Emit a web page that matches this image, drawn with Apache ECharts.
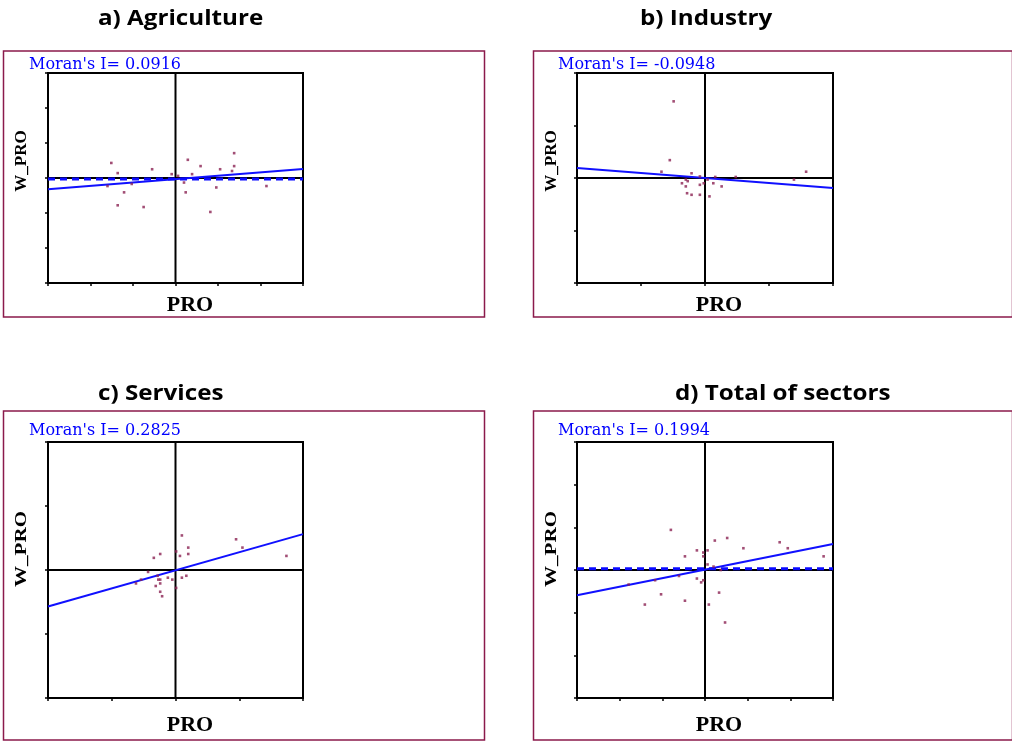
<!DOCTYPE html>
<html>
<head>
<meta charset="utf-8">
<script src="https://cdn.jsdelivr.net/npm/echarts@6/dist/echarts.min.js"></script>
<style>html,body{margin:0;padding:0;background:#fff;}#c{width:1012px;height:742px;}</style>
</head>
<body>
<div id="c"></div>
<script>
// ---- data ----
const panelTitles = ['a) Agriculture', 'b) Industry', 'c) Services', 'd) Total of sectors'];
const moranLabels = ["Moran's I= 0.0916", "Moran's I= -0.0948", "Moran's I= 0.2825", "Moran's I= 0.1994"];
const axisExtent = [3, 2, 2, 3];
const xAxisName = 'PRO';
const yAxisName = 'W_PRO';

const agriX = [-1.51, -1.36, -1.60, -1.21, -1.03, -1.36, -0.75, -0.55, -0.09, 0.06, 0.20, 0.24, 0.29, 0.39, 0.59, 0.82, 0.96, 1.05, 1.33, 1.38, 1.38, 2.14];
const agriY = [0.43, 0.14, -0.23, -0.41, -0.17, -0.78, -0.83, 0.25, 0.11, 0.06, -0.13, -0.41, 0.52, 0.11, 0.34, -0.97, -0.27, 0.25, 0.20, 0.34, 0.71, -0.23];
const agriFitX = [-3, 3];
const agriFitY = [-0.32, 0.26];
const agriRefY = [-0.03, -0.03];

const indX = [-0.49, -0.55, -0.68, -0.21, -0.08, -0.30, -0.27, -0.36, -0.30, -0.08, -0.02, -0.28, -0.21, -0.08, 0.07, 0.13, 0.16, 0.26, 0.48, 1.39, 1.58, 0.04];
const indY = [1.46, 0.34, 0.12, 0.09, 0.03, -0.03, -0.06, -0.10, -0.16, -0.13, -0.10, -0.29, -0.32, -0.32, -0.35, -0.10, 0.02, -0.16, 0.02, -0.03, 0.12, -0.03];
const indFitX = [-2, 2];
const indFitY = [0.19, -0.19];

const servX = [0.10, 0.95, 1.05, 0.20, -0.24, -0.34, 0.07, 0.20, 0.01, 1.74, -0.43, -0.62, -0.28, -0.27, -0.24, -0.24, -0.31, -0.24, -0.21, -0.12, -0.05, 0.01, 0.10, 0.17, -0.54];
const servY = [0.54, 0.48, 0.35, 0.35, 0.25, 0.19, 0.22, 0.25, 0.29, 0.22, -0.03, -0.21, -0.09, -0.15, -0.15, -0.21, -0.25, -0.34, -0.41, -0.12, -0.15, -0.28, -0.12, -0.09, -0.15];
const servFitX = [-2, 2];
const servFitY = [-0.57, 0.56];

const totX = [-0.80, 0.23, 0.52, 0.90, 1.75, 1.94, 2.78, -0.47, -0.19, -0.04, -0.04, 0.06, 0.06, 0.20, 0.37, -0.61, -1.17, -0.19, -0.09, -0.04, -1.03, -1.41, -0.47, 0.09, 0.33, 0.47, -1.79];
const totY = [0.94, 0.69, 0.75, 0.51, 0.65, 0.51, 0.32, 0.32, 0.46, 0.41, 0.32, 0.46, 0.13, 0.08, 0.00, -0.14, -0.24, -0.20, -0.29, -0.24, -0.57, -0.81, -0.72, -0.81, -0.53, -1.23, -0.34];
const totFitX = [-3, 3];
const totFitY = [-0.59, 0.61];
const totRefY = [0.03, 0.03];

// ---- layout ----
const grids = [
  {left: 48, top: 73, width: 255, height: 210},
  {left: 577, top: 73, width: 256, height: 210},
  {left: 48, top: 442, width: 255, height: 256},
  {left: 577, top: 442, width: 256, height: 256}
];
const frames = [
  {x: 3.5, y: 51, w: 481, h: 266},
  {x: 533.5, y: 51, w: 479, h: 266},
  {x: 3.5, y: 411, w: 481, h: 329},
  {x: 533.5, y: 411, w: 479, h: 329}
];
const titlePos = [[98, 19], [640, 19], [98, 394], [675, 394]];
const moranPos = [[29, 65], [558, 65], [29, 431], [558, 431]];
const wproPos = [[22, 161, 1], [552, 161, 1], [22, 549, 1.24], [552, 549, 1.24]];
const proPos = [[190, 305], [719, 305], [190, 725], [719, 725]];

const panels = [
  {x: agriX, y: agriY, fx: agriFitX, fy: agriFitY, ref: agriRefY},
  {x: indX, y: indY, fx: indFitX, fy: indFitY, ref: null},
  {x: servX, y: servY, fx: servFitX, fy: servFitY, ref: null},
  {x: totX, y: totY, fx: totFitX, fy: totFitY, ref: totRefY}
];

const xAxes = [], yAxes = [], series = [], graphic = [];
const axisCommon = (ext) => ({
  type: 'value', min: -ext, max: ext, interval: 1,
  axisLine: {show: true, onZero: false, lineStyle: {color: '#000', width: 2}},
  axisTick: {show: true, inside: false, length: 3, lineStyle: {color: '#000', width: 1.5}},
  axisLabel: {show: false},
  splitLine: {show: false}
});

panels.forEach((p, i) => {
  const ext = axisExtent[i];
  xAxes.push(Object.assign({gridIndex: i}, axisCommon(ext)));
  yAxes.push(Object.assign({gridIndex: i}, axisCommon(ext)));
  // zero cross lines
  series.push({
    type: 'line', xAxisIndex: i, yAxisIndex: i, z: 1, symbol: 'none', silent: true,
    data: [[0, -ext], [0, ext]], lineStyle: {color: '#000', width: 2}
  });
  series.push({
    type: 'line', xAxisIndex: i, yAxisIndex: i, z: 1, symbol: 'none', silent: true,
    data: [[-ext, 0], [ext, 0]], lineStyle: {color: '#000', width: 2}
  });
  series.push({
    type: 'line', xAxisIndex: i, yAxisIndex: i, z: 3, symbol: 'none', silent: true,
    data: p.fx.map((v, k) => [v, p.fy[k]]),
    lineStyle: {color: '#1010ff', width: 2}
  });
  if (p.ref) {
    series.push({
      type: 'line', xAxisIndex: i, yAxisIndex: i, z: 4, symbol: 'none', silent: true,
      data: p.fx.map((v, k) => [v, p.ref[k]]),
      lineStyle: {color: '#0a0aff', width: 3, type: [7, 5]}
    });
  }
  series.push({
    type: 'scatter', xAxisIndex: i, yAxisIndex: i, z: 6, silent: true,
    symbol: 'rect', symbolSize: 2.6,
    data: p.x.map((v, k) => [v, p.y[k]]),
    itemStyle: {color: '#8b2252'}
  });

  const f = frames[i];
  graphic.push({type: 'rect', shape: {x: f.x, y: f.y, width: f.w, height: f.h},
    style: {fill: 'none', stroke: '#8b1a4b', lineWidth: 1.5}, silent: true});
  graphic.push({type: 'text', x: titlePos[i][0], y: titlePos[i][1], scaleX: 1.1,
    style: {text: panelTitles[i], font: 'bold 22px "Open Sans", Lato, sans-serif', fill: '#000', align: 'left', verticalAlign: 'middle'}});
  graphic.push({type: 'text', x: moranPos[i][0], y: moranPos[i][1],
    style: {text: moranLabels[i], font: '16px "DejaVu Serif", serif', fill: '#0000ff', align: 'left', verticalAlign: 'middle'}});
  graphic.push({type: 'text', x: wproPos[i][0], y: wproPos[i][1], rotation: Math.PI / 2, scaleX: wproPos[i][2],
    style: {text: yAxisName, font: 'bold 17px "Liberation Serif", serif', fill: '#000', align: 'center', verticalAlign: 'middle'}});
  graphic.push({type: 'text', x: proPos[i][0], y: proPos[i][1],
    style: {text: xAxisName, font: 'bold 22px "Liberation Serif", serif', fill: '#000', align: 'center', verticalAlign: 'middle'}});
});

const chart = echarts.init(document.getElementById('c'), null, {renderer: 'canvas'});
chart.setOption({
  animation: false,
  backgroundColor: '#fff',
  grid: grids.map(g => Object.assign({show: true, borderColor: '#000', borderWidth: 2, backgroundColor: 'transparent'}, g)),
  xAxis: xAxes,
  yAxis: yAxes,
  series: series,
  graphic: graphic
});
</script>
</body>
</html>
